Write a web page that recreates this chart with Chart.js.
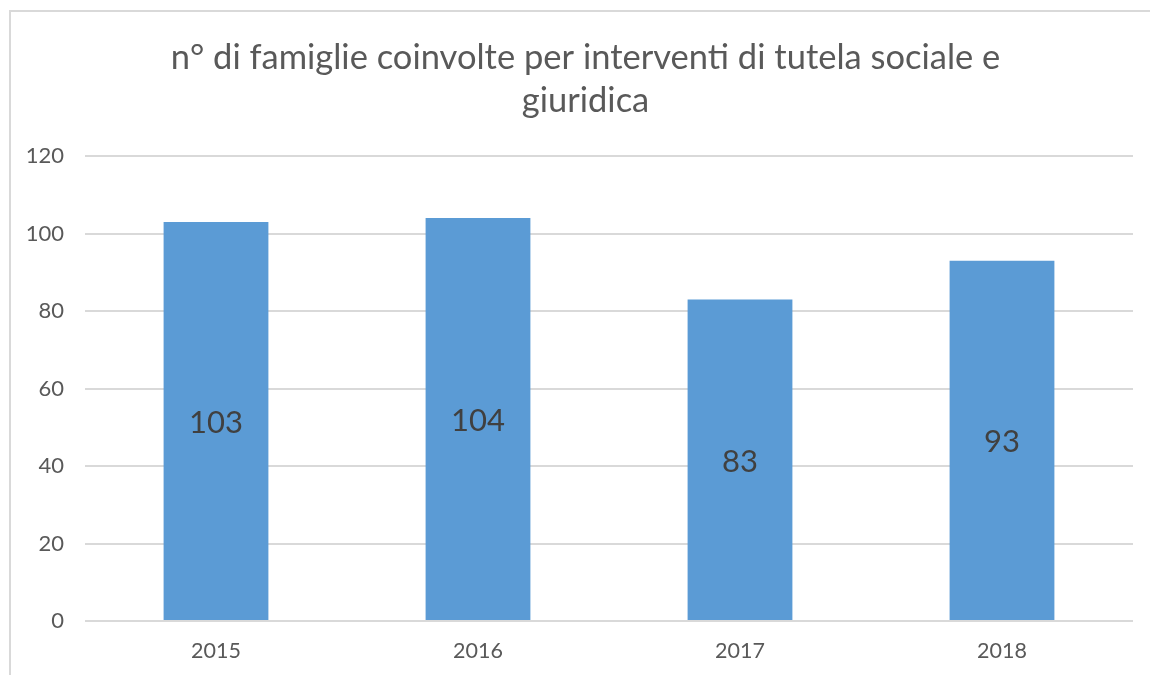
<!DOCTYPE html>
<html>
<head>
<meta charset="utf-8">
<script src="https://cdn.jsdelivr.net/npm/chart.js@4.4.1/dist/chart.umd.min.js"></script>
<style>
  html, body { margin: 0; padding: 0; background: #ffffff; overflow: hidden; width: 1150px; height: 675px; }
  #frame { position: absolute; left: 9px; top: 10px; width: 1200px; height: 700px;
           border-top: 2px solid #d9d9d9; border-left: 2px solid #d9d9d9; box-sizing: border-box; }
  #wrap { position: absolute; left: 0; top: 0; width: 1150px; height: 675px; }
</style>
</head>
<body>
<div id="frame"></div>
<div id="wrap"><canvas id="c" width="1150" height="675"></canvas></div>
<script>
const titleLines = ["n° di famiglie coinvolte per interventi di tutela sociale e", "giuridica"];
const categories = ["2015", "2016", "2017", "2018"];
const values = [103, 104, 83, 93];
const yTicks = [0, 20, 40, 60, 80, 100, 120];

const FONT = "Lato, 'Open Sans', sans-serif";

// Title drawn centred on the (wider, partly cropped) chart object, like the source.
const chartTitle = {
  id: 'chartTitle',
  afterDraw(chart) {
    const ctx = chart.ctx;
    ctx.save();
    ctx.font = "34.5px " + FONT;
    ctx.fillStyle = "#595959";
    ctx.textAlign = "center";
    ctx.textBaseline = "middle";
    const cx = chart.width / 2 + 10.5;
    titleLines.forEach((line, i) => ctx.fillText(line, cx, 58 + i * 43));
    ctx.restore();
  }
};

const barLabels = {
  id: 'barLabels',
  afterDatasetsDraw(chart) {
    const ctx = chart.ctx;
    const meta = chart.getDatasetMeta(0);
    ctx.save();
    ctx.font = "31px " + FONT;
    ctx.fillStyle = "#404040";
    ctx.textAlign = "center";
    ctx.textBaseline = "middle";
    meta.data.forEach((bar, i) => {
      const y = (bar.y + bar.base) / 2 + 2;
      ctx.fillText(String(values[i]), bar.x, y);
    });
    ctx.restore();
  }
};

new Chart(document.getElementById('c'), {
  type: 'bar',
  data: {
    labels: categories,
    datasets: [{
      data: values,
      backgroundColor: '#5b9bd5',
      borderWidth: 0,
      categoryPercentage: 1.0,
      barPercentage: 0.4
    }]
  },
  options: {
    responsive: false,
    animation: false,
    events: [],
    layout: { padding: { left: 0, right: 17, top: 156, bottom: 0 } },
    plugins: {
      legend: { display: false },
      tooltip: { enabled: false },
      title: { display: false }
    },
    scales: {
      x: {
        grid: { display: false, drawTicks: false },
        border: { display: false },
        ticks: { color: '#595959', font: { family: FONT, size: 21.5 }, padding: 17 },
        afterFit(scale) { scale.height = 54; }
      },
      y: {
        min: 0, max: 120,
        afterBuildTicks(scale) { scale.ticks = yTicks.map(v => ({ value: v })); },
        grid: { color: '#d9d9d9', lineWidth: 2, drawTicks: false },
        border: { display: false },
        ticks: { color: '#595959', font: { family: FONT, size: 22 }, padding: 21 },
        afterFit(scale) { scale.width = 85; }
      }
    }
  },
  plugins: [barLabels, chartTitle]
});
</script>
</body>
</html>
